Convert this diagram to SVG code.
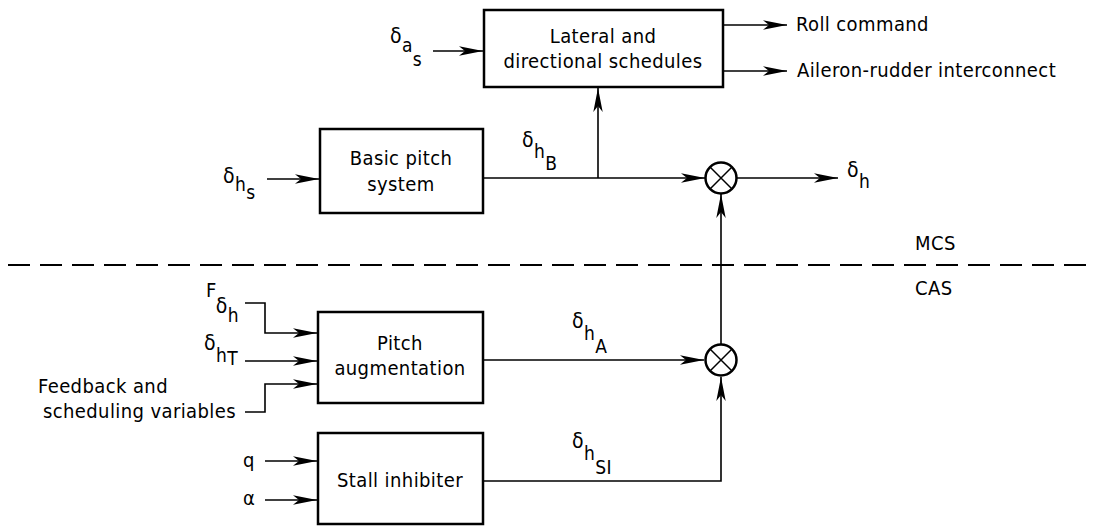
<svg xmlns="http://www.w3.org/2000/svg" width="1095" height="527" viewBox="0 0 1095 527">
<style>
text{font-family:"DejaVu Sans Condensed","DejaVu Sans",sans-serif;font-size:20px;fill:#000;letter-spacing:0.4px}
.box{fill:#fff;stroke:#000;stroke-width:2.5}
.ln{fill:none;stroke:#000;stroke-width:1.5}
.arr{fill:none;stroke:#000;stroke-width:1.6;marker-end:url(#ah)}
.sum{fill:#fff;stroke:#000;stroke-width:2.5}
.c{text-anchor:middle}
.g{font-size:21px}
.s{font-size:19px}
</style>
<defs>
<marker id="ah" markerWidth="26" markerHeight="12" refX="24" refY="6" orient="auto" markerUnits="userSpaceOnUse">
<path d="M0,1.3 L24,6 L0,10.7 L6,6 Z" fill="#000"/>
</marker>
</defs>
<g id="connectors">
<line class="arr" x1="433" y1="51" x2="483" y2="51"/>
<line class="arr" x1="723" y1="25" x2="787" y2="25"/>
<line class="arr" x1="723" y1="71" x2="787" y2="71"/>
<line class="arr" x1="267" y1="179" x2="319" y2="179"/>
<line class="arr" x1="483" y1="178" x2="705" y2="178"/>
<line class="arr" x1="598" y1="178" x2="598" y2="88"/>
<line class="arr" x1="737" y1="178" x2="838" y2="178"/>
<line class="arr" x1="721" y1="344" x2="721" y2="194"/>
<line x1="8" y1="265" x2="1095" y2="265" stroke="#000" stroke-width="2" stroke-dasharray="22,10"/>
<polyline class="arr" points="245,303 265,303 265,333 317,333"/>
<line class="arr" x1="245" y1="361" x2="317" y2="361"/>
<polyline class="arr" points="245,412 265,412 265,384 317,384"/>
<line class="arr" x1="483" y1="360" x2="704" y2="360"/>
<polyline class="arr" points="483,481 721,481 721,377"/>
<line class="arr" x1="265" y1="461" x2="317" y2="461"/>
<line class="arr" x1="265" y1="500" x2="317" y2="500"/>
</g>
<g id="lateral">
<rect class="box" x="484" y="10" width="239" height="77"/>
<text class="c" x="603" y="43">Lateral and</text>
<text class="c" x="603" y="68">directional schedules</text>
</g>
<g id="basic">
<rect class="box" x="320" y="129" width="163" height="84"/>
<text class="c" x="401" y="165">Basic pitch</text>
<text class="c" x="401" y="191">system</text>
</g>
<g id="pitchaug">
<rect class="box" x="318" y="312" width="165" height="91"/>
<text class="c" x="400" y="350">Pitch</text>
<text class="c" x="400" y="375">augmentation</text>
</g>
<g id="stall">
<rect class="box" x="318" y="433" width="165" height="91"/>
<text class="c" x="400" y="487">Stall inhibiter</text>
</g>
<g id="sum1">
<circle class="sum" cx="721" cy="178" r="15.5"/>
<path class="ln" d="M710,167 L732,189 M732,167 L710,189" stroke-width="2"/>
</g>
<g id="sum2">
<circle class="sum" cx="721" cy="360" r="15.5"/>
<path class="ln" d="M710,349 L732,371 M732,349 L710,371" stroke-width="2"/>
</g>
<g id="labels">
<text x="390" y="43" class="g">δ<tspan dy="9" class="s">a</tspan><tspan dy="14" class="s">s</tspan></text>
<text x="796" y="31">Roll command</text>
<text x="797" y="77">Aileron-rudder interconnect</text>
<text x="223" y="183" class="g">δ<tspan dy="8" class="s">h</tspan><tspan dy="8" class="s">s</tspan></text>
<text x="522" y="147" class="g">δ<tspan dy="11" class="s">h</tspan><tspan dy="12" class="s">B</tspan></text>
<text x="847" y="177" class="g">δ<tspan dy="11" class="s">h</tspan></text>
<text x="915" y="250" font-size="18" letter-spacing="2">MCS</text>
<text x="915" y="295" font-size="18" letter-spacing="1">CAS</text>
<text x="206" y="297" font-size="19">F<tspan dy="16" class="g" dx="-1">δ</tspan><tspan dy="9" class="s">h</tspan></text>
<text x="204" y="350" class="g">δ<tspan dy="12" class="s">h</tspan><tspan dy="3" class="s">T</tspan></text>
<text x="38" y="393" letter-spacing="1.6">Feedback and</text>
<text x="236" y="418" letter-spacing="0" text-anchor="end">scheduling variables</text>
<text x="572" y="328" class="g">δ<tspan dy="12" class="s">h</tspan><tspan dy="13" class="s">A</tspan></text>
<text x="572" y="448" class="g">δ<tspan dy="12" class="s">h</tspan><tspan dy="14" class="s">SI</tspan></text>
<text x="243" y="467">q</text>
<text x="243" y="505">α</text>
</g>
</svg>
